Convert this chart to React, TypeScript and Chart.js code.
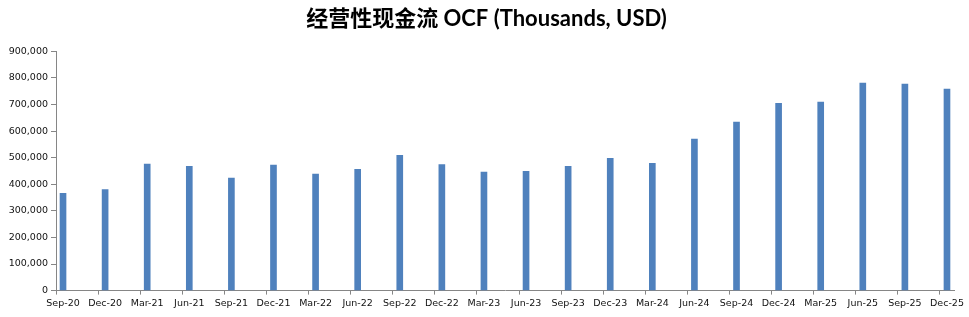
import React, { useEffect, useRef } from "react";
import { Chart, registerables } from "chart.js";

Chart.register(...registerables);

const TITLE = "经营性现金流 OCF (Thousands, USD)";

const quarters = [
  "Sep-20", "Dec-20", "Mar-21", "Jun-21", "Sep-21", "Dec-21",
  "Mar-22", "Jun-22", "Sep-22", "Dec-22", "Mar-23", "Jun-23",
  "Sep-23", "Dec-23", "Mar-24", "Jun-24", "Sep-24", "Dec-24",
  "Mar-25", "Jun-25", "Sep-25", "Dec-25",
];

const ocf = [
  366000, 380000, 476000, 468000, 423000, 472000,
  438000, 456000, 509000, 474000, 446000, 449000,
  468000, 498000, 479000, 570000, 634000, 705000,
  709000, 781000, 777000, 758000,
];

const yTicks = [0, 100000, 200000, 300000, 400000, 500000, 600000, 700000, 800000, 900000];

// monthly slots (date-axis look): each quarter followed by two empty months
const slotLabels: string[] = quarters.flatMap((q, i) =>
  i < quarters.length - 1 ? [q, "", ""] : [q]
);
const slotData: (number | null)[] = ocf.flatMap((v, i) =>
  i < ocf.length - 1 ? [v, null, null] : [v]
);

const AXIS = "#868686";
const BAR = "#4F81BD";

// centre the title over the full canvas width (+ small offset like the reference)
const titleCenter = {
  id: "titleCenter",
  afterLayout(chart: any) {
    const t = chart.titleBlock;
    if (t) {
      t.left = 0;
      t.right = 973;
    }
  },
};

export default function App() {
  const ref = useRef<HTMLCanvasElement | null>(null);

  useEffect(() => {
    if (!ref.current) return;
    const chart = new Chart(ref.current, {
      type: "bar",
      data: {
        labels: slotLabels,
        datasets: [
          {
            data: slotData,
            backgroundColor: BAR,
            borderWidth: 0,
            barThickness: 6,
          },
        ],
      },
      plugins: [titleCenter],
      options: {
        responsive: false,
        animation: false,
        layout: { padding: { left: 0, right: 15, top: 0, bottom: 5 } },
        plugins: {
          legend: { display: false },
          tooltip: { enabled: false },
          title: {
            display: true,
            text: TITLE,
            color: "#000",
            font: {
              family: "Lato, 'Noto Sans CJK SC', sans-serif",
              size: 22,
              weight: "bold",
            },
            padding: { top: 6, bottom: 19 },
          },
        },
        scales: {
          x: {
            type: "category",
            offset: true,
            grid: {
              display: true,
              drawOnChartArea: false,
              drawTicks: true,
              offset: true,
              tickLength: 4,
              tickColor: (ctx: any) =>
                typeof ctx.index === "number" && ctx.index % 3 === 0 ? AXIS : "rgba(0,0,0,0)",
            },
            border: { display: true, color: AXIS, width: 1 },
            ticks: {
              autoSkip: false,
              maxRotation: 0,
              minRotation: 0,
              padding: 3,
              color: "#111",
              font: { family: "'DejaVu Sans', sans-serif", size: 9.5 },
              callback: (_v: any, i: number) => slotLabels[i],
            },
          },
          y: {
            min: 0,
            max: 900000,
            afterFit: (scale: any) => {
              scale.width = 56;
            },
            afterBuildTicks: (scale: any) => {
              scale.ticks = yTicks.map((v) => ({ value: v }));
            },
            grid: {
              display: true,
              drawOnChartArea: false,
              drawTicks: true,
              tickLength: 5,
              tickColor: AXIS,
            },
            border: { display: true, color: AXIS, width: 1 },
            ticks: {
              padding: 3,
              color: "#111",
              font: { family: "'DejaVu Sans', sans-serif", size: 9.5 },
              callback: (v: any) => Number(v).toLocaleString("en-US"),
            },
          },
        },
      },
    });
    return () => chart.destroy();
  }, []);

  return (
    <div style={{ position: "fixed", left: 0, top: 0, width: 969, height: 317, background: "#fff" }}>
      <canvas ref={ref} width={969} height={317} />
    </div>
  );
}
